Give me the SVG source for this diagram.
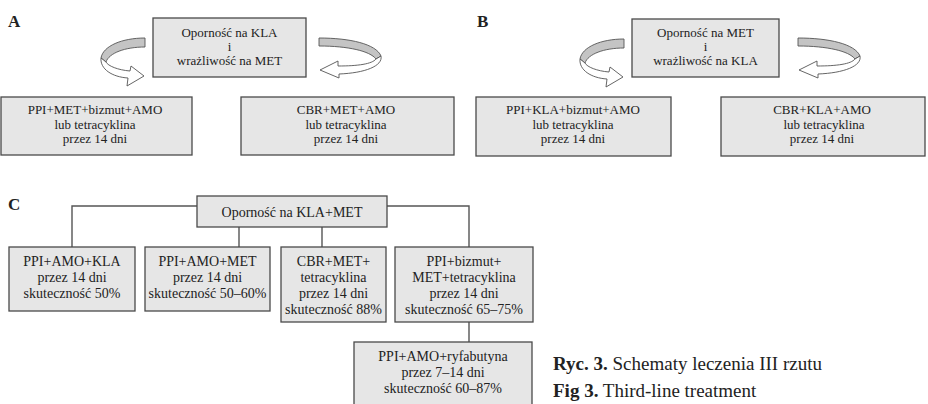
<svg xmlns="http://www.w3.org/2000/svg" width="928" height="404" viewBox="0 0 928 404">
<style>
  text { font-family: "Liberation Serif", "Times New Roman", serif; fill: #222; }
  .t13 { font-size: 13px; text-anchor: middle; }
  .t14 { font-size: 14px; text-anchor: middle; }
  .lbl { font-size: 17px; font-weight: bold; }
  .cap { font-size: 19px; }
  .box { fill: #e6e6e6; stroke: #4a4a4a; stroke-width: 1.3; }
  .ln { fill: none; stroke: #555; stroke-width: 1.4; }
  .band { fill: #c4c4c4; stroke: #555; stroke-width: 0.9; stroke-linejoin: round; }
  .head { fill: #fff; stroke: #555; stroke-width: 0.9; stroke-linejoin: round; }
</style>
<defs>
  <g id="arrowL">
    <path class="band" d="M145,38 C122,38 103,46 101,58 L106,62 C109,53 125,47 145,47 Z"/>
    <path class="head" d="M101,58 C100,69 112,77 128,78 L127,86 L144,76 L131,66 L130,71 C118,70 108,66 106,62 Z"/>
  </g>
  <g id="arrowR">
    <path class="band" d="M319,38 C350,38 376,44 381,56 L376,59 C370,51 348,46 319,46 Z"/>
    <path class="head" d="M381,56 C383,66 365,73 339,74 L339,78 L320,70 L338,61 L338,66 C358,66 372,64 376,59 Z"/>
  </g>
</defs>

<!-- panel labels -->
<text class="lbl" x="8" y="27">A</text>
<text class="lbl" x="477" y="27">B</text>
<text class="lbl" x="8" y="210">C</text>

<g id="connectors">
  <use href="#arrowL"/>
  <use href="#arrowR"/>
  <use href="#arrowL" transform="translate(479,1)"/>
  <use href="#arrowR" transform="translate(479,0)"/>
  <path class="ln" d="M197,206 H72 V247"/>
  <path class="ln" d="M387,206 H469 V247"/>
  <path class="ln" d="M239,227 V247"/>
  <path class="ln" d="M322,227 V247"/>
  <path class="ln" d="M469,322 V342"/>
</g>

<!-- Panel A -->
<g id="a-top">
  <rect class="box" x="153" y="18" width="153" height="59"/>
  <text class="t13" x="229.5" y="37">Oporność na KLA</text>
  <text class="t13" x="229.5" y="51">i</text>
  <text class="t13" x="229.5" y="65">wrażliwość na MET</text>
</g>
<g id="a-left">
  <rect class="box" x="1" y="97" width="191" height="58"/>
  <text class="t13" x="95" y="114">PPI+MET+bizmut+AMO</text>
  <text class="t13" x="95" y="128.5">lub tetracyklina</text>
  <text class="t13" x="95" y="143">przez 14 dni</text>
</g>
<g id="a-right">
  <rect class="box" x="241" y="97" width="213" height="58"/>
  <text class="t13" x="346" y="114">CBR+MET+AMO</text>
  <text class="t13" x="346" y="128.5">lub tetracyklina</text>
  <text class="t13" x="346" y="143">przez 14 dni</text>
</g>

<!-- Panel B -->
<g id="b-top">
  <rect class="box" x="632" y="19" width="147" height="58"/>
  <text class="t13" x="705.5" y="37">Oporność na MET</text>
  <text class="t13" x="705.5" y="51">i</text>
  <text class="t13" x="705.5" y="65">wrażliwość na KLA</text>
</g>
<g id="b-left">
  <rect class="box" x="476" y="97" width="195" height="59"/>
  <text class="t13" x="573" y="114">PPI+KLA+bizmut+AMO</text>
  <text class="t13" x="573" y="128.5">lub tetracyklina</text>
  <text class="t13" x="573" y="143">przez 14 dni</text>
</g>
<g id="b-right">
  <rect class="box" x="721" y="97" width="204" height="59"/>
  <text class="t13" x="822" y="114">CBR+KLA+AMO</text>
  <text class="t13" x="824" y="128.5">lub tetracyklina</text>
  <text class="t13" x="822" y="143">przez 14 dni</text>
</g>

<!-- Panel C -->
<g id="c-top">
  <rect class="box" x="197" y="196" width="190" height="31"/>
  <text class="t14" x="292" y="216.5">Oporność na KLA+MET</text>
</g>
<g id="c-1">
  <rect class="box" x="9" y="247" width="126" height="64"/>
  <text class="t14" x="72" y="266">PPI+AMO+KLA</text>
  <text class="t14" x="72" y="282">przez 14 dni</text>
  <text class="t14" x="72" y="298">skuteczność 50%</text>
</g>
<g id="c-2">
  <rect class="box" x="145" y="247" width="125" height="64"/>
  <text class="t14" x="207.5" y="266">PPI+AMO+MET</text>
  <text class="t14" x="207.5" y="282">przez 14 dni</text>
  <text class="t14" x="207.5" y="298">skuteczność 50–60%</text>
</g>
<g id="c-3">
  <rect class="box" x="281" y="247" width="105" height="75"/>
  <text class="t14" x="333.5" y="266">CBR+MET+</text>
  <text class="t14" x="333.5" y="282">tetracyklina</text>
  <text class="t14" x="333.5" y="298">przez 14 dni</text>
  <text class="t14" x="333.5" y="313.5">skuteczność 88%</text>
</g>
<g id="c-4">
  <rect class="box" x="395" y="247" width="138" height="75"/>
  <text class="t14" x="464" y="266">PPI+bizmut+</text>
  <text class="t14" x="464" y="282">MET+tetracyklina</text>
  <text class="t14" x="464" y="298">przez 14 dni</text>
  <text class="t14" x="464" y="313.5">skuteczność 65–75%</text>
</g>
<g id="c-5">
  <rect class="box" x="354" y="342" width="178" height="64"/>
  <text class="t14" x="443" y="361">PPI+AMO+ryfabutyna</text>
  <text class="t14" x="443" y="377">przez 7–14 dni</text>
  <text class="t14" x="443" y="393">skuteczność 60–87%</text>
</g>

<!-- caption -->
<text class="cap" x="553" y="370"><tspan font-weight="bold">Ryc. 3.</tspan> Schematy leczenia III rzutu</text>
<text class="cap" x="553" y="397"><tspan font-weight="bold">Fig 3.</tspan> Third-line treatment</text>
</svg>
